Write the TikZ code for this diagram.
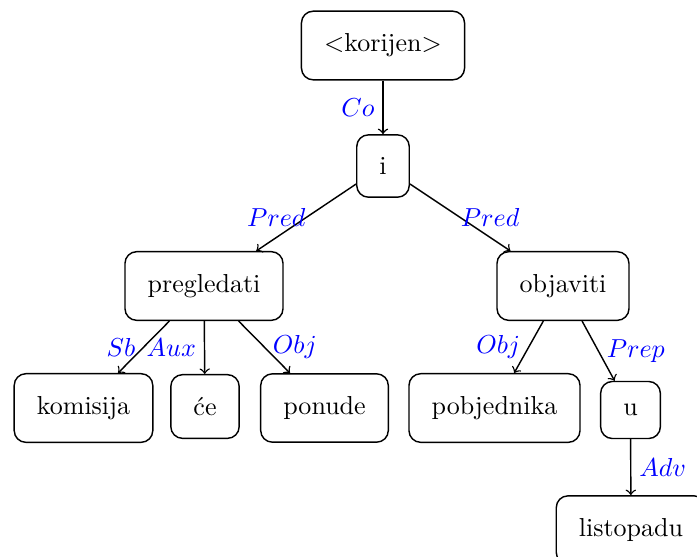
\documentclass[tikz,border=0pt]{standalone}
\usetikzlibrary{arrows}
\begin{document}
\begin{tikzpicture}[x=0.3845pt,y=-0.3845pt,line width=0.55pt,
  word/.style={draw, rounded corners=4.5pt, inner sep=8.7pt},
  dep/.style={->},
  lbl/.style={text=blue, inner sep=3pt}]
\useasboundingbox (0,0) rectangle (697,556);
\node[word] (root) at (383,45.5) {$<$korijen$>$};
\node[word] (i) at (383,166) {i};
\node[word] (preg) at (204,286) {pregledati};
\node[word] (obj) at (563,286) {objaviti};
\node[word] (kom) at (83.5,408) {komisija};
\node[word] (ce) at (205,406.5) {će};
\node[word] (pon) at (324.5,408) {ponude};
\node[word] (pob) at (494.5,408) {pobjednika};
\node[word] (u) at (630.5,410) {u};
\node[word] (lis) at (631,530) {listopadu};
\draw[dep] (root) -- node[left,lbl] {$Co$} (i);
\draw[dep] (i) -- node[left,lbl,xshift=3pt] {$Pred$} (preg);
\draw[dep] (i) -- node[right,lbl,xshift=-3pt] {$Pred$} (obj);
\draw[dep] (preg) -- node[left,lbl] {$Sb$} (kom);
\draw[dep] (preg) -- node[left,lbl] {$Aux$} (ce);
\draw[dep] (preg) -- node[right,lbl] {$Obj$} (pon);
\draw[dep] (obj) -- node[left,lbl] {$Obj$} (pob);
\draw[dep] (obj) -- node[right,lbl] {$Prep$} (u);
\draw[dep] (u) -- node[right,lbl] {$Adv$} (lis);
\end{tikzpicture}
\end{document}
